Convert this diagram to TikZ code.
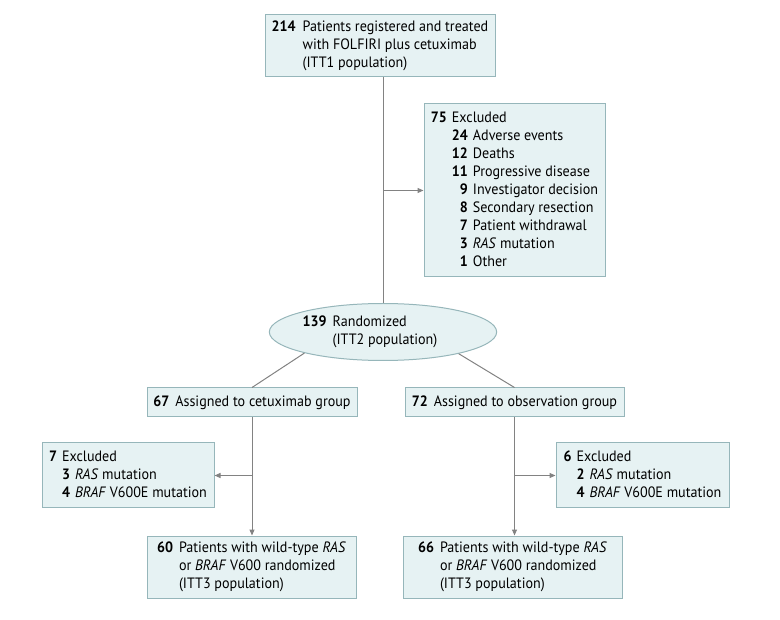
\documentclass[tikz,border=0pt]{standalone}
\usepackage{fontspec}
\setmainfont{PT Sans}[FakeStretch=0.94]
\usepackage{tikz}
\usetikzlibrary{shapes.geometric,arrows.meta}

\definecolor{boxfill}{RGB}{230,242,243}
\definecolor{boxline}{RGB}{150,182,186}
\definecolor{linkgray}{RGB}{130,130,130}

\begin{document}
\begin{tikzpicture}[x=1pt, y=-1pt, line width=1pt,
    box/.style={draw=boxline, fill=boxfill, inner sep=0pt, font=\fontsize{15}{18}\selectfont},
    link/.style={draw=linkgray},
    >={Triangle[length=6pt,width=5pt]}]

\newcommand{\nb}{\textbf}

\useasboundingbox (0,0) rectangle (780,620);

% draw top box and exclusions
\node[box, minimum width=230pt, minimum height=62pt] (itt1) at (380,46)
    {\begin{tabular}{@{}l@{\hspace{7pt}}l@{}}
    \nb{214} & Patients registered and treated\\
     & with FOLFIRI plus cetuximab\\
     & (ITT1 population)
    \end{tabular}};
\node[box, minimum width=181pt, minimum height=173pt] (excl) at (514.5,190.5)
    {\begin{tabular}{@{}l@{\hspace{5pt}}r@{\hspace{5pt}}l@{}}
    \nb{75} & \multicolumn{2}{@{}l@{}}{Excluded}\\
     & \nb{24} & Adverse events\\
     & \nb{12} & Deaths\\
     & \nb{11} & Progressive disease\\
     & \nb{9} & Investigator decision\\
     & \nb{8} & Secondary resection\\
     & \nb{7} & Patient withdrawal\\
     & \nb{3} & \textit{RAS} mutation\\
     & \nb{1} & Other
    \end{tabular}};

% draw randomization
\node[box, ellipse, minimum width=198pt, minimum height=57pt] (rand) at (383,332)
    {\begin{tabular}{@{}l@{\hspace{6pt}}l@{\hspace{26pt}}}
    \nb{139} & Randomized\\
     & (ITT2 population)
    \end{tabular}};

% draw arms
\node[box, minimum width=210pt, minimum height=29pt] (armA) at (252,402.5)
    {\nb{67}\hspace{6pt}Assigned to cetuximab group};
\node[box, minimum width=219pt, minimum height=29pt] (armB) at (514.5,402.5)
    {\nb{72}\hspace{6pt}Assigned to observation group};

% draw arm exclusions
\node[box, minimum width=172pt, minimum height=65pt] (exA) at (128,475.5)
    {\begin{tabular}{@{}l@{\hspace{5pt}}r@{\hspace{5pt}}l@{}}
    \nb{7} & \multicolumn{2}{@{}l@{}}{Excluded}\\
     & \nb{3} & \textit{RAS} mutation\\
     & \nb{4} & \textit{BRAF} V600E mutation
    \end{tabular}};
\node[box, minimum width=173pt, minimum height=65pt] (exB) at (642.5,475.5)
    {\begin{tabular}{@{}l@{\hspace{5pt}}r@{\hspace{5pt}}l@{}}
    \nb{6} & \multicolumn{2}{@{}l@{}}{Excluded}\\
     & \nb{2} & \textit{RAS} mutation\\
     & \nb{4} & \textit{BRAF} V600E mutation
    \end{tabular}};

% draw ITT3 boxes
\node[box, minimum width=209pt, minimum height=62pt] (resA) at (251.5,567)
    {\begin{tabular}{@{}l@{\hspace{6pt}}l@{}}
    \nb{60} & Patients with wild-type \textit{RAS}\\
     & or \textit{BRAF} V600 randomized\\
     & (ITT3 population)
    \end{tabular}};
\node[box, minimum width=219pt, minimum height=62pt] (resB) at (512.5,567)
    {\begin{tabular}{@{}l@{\hspace{6pt}}l@{}}
    \nb{66} & Patients with wild-type \textit{RAS}\\
     & or \textit{BRAF} V600 randomized\\
     & (ITT3 population)
    \end{tabular}};

% draw connectors
\draw[link] (itt1.south -| rand.north) -- (rand.north);
\draw[link, ->] (excl.west -| rand.north) -- (excl.west);
\draw[link] (rand.195) -- (armA.north);
\draw[link] (rand.344) -- (armB.north);
\draw[link, ->] (armA.south) -- (armA.south |- resA.north);
\draw[link, ->] (exA.east -| armA.south) -- (exA.east);
\draw[link, ->] (armB.south) -- (armB.south |- resB.north);
\draw[link, ->] (exB.west -| armB.south) -- (exB.west);

\end{tikzpicture}
\end{document}
